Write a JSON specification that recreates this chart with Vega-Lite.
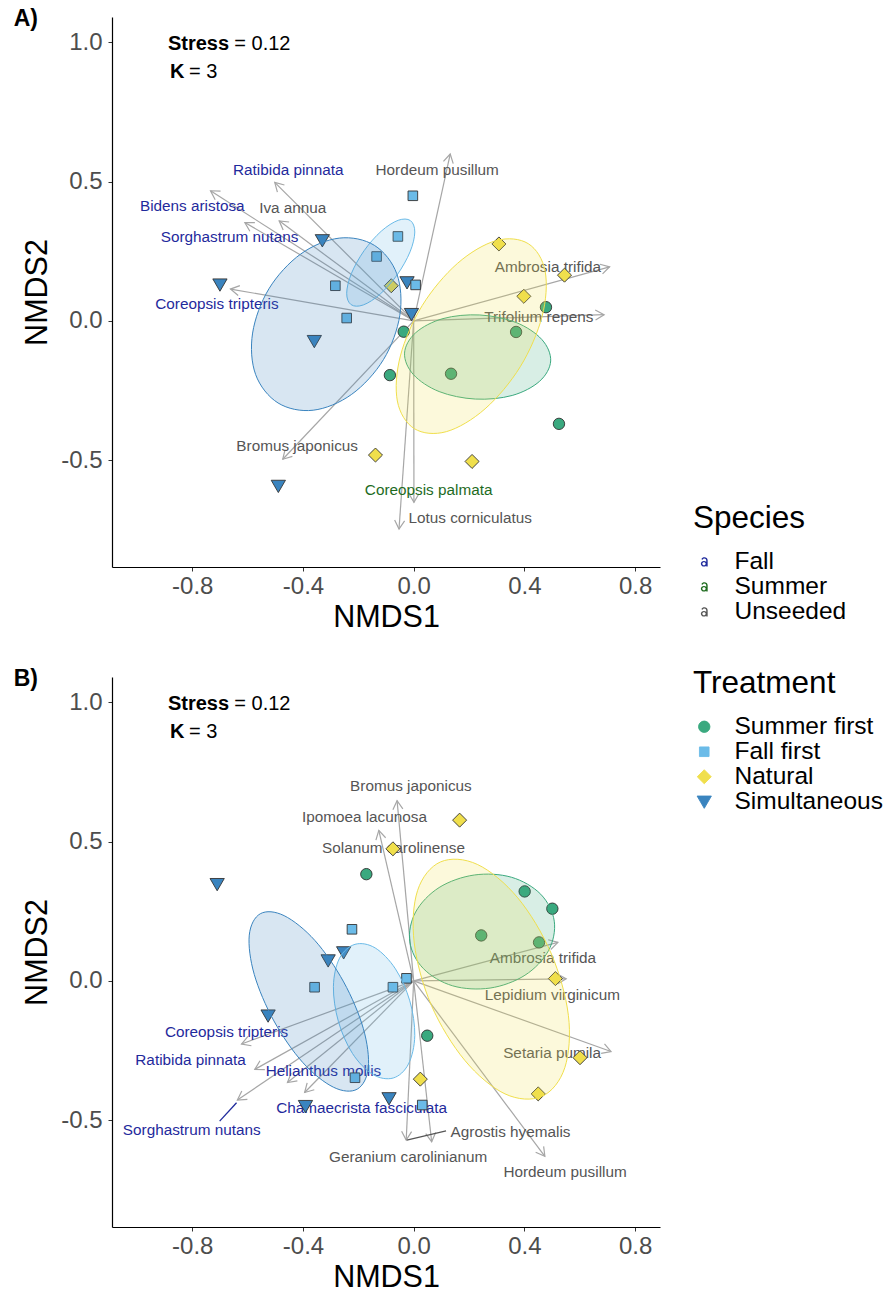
{
  "$schema": "https://vega.github.io/schema/vega-lite/v6.json",
  "padding": {"left": 13, "top": 8, "right": 4, "bottom": 0},
  "spacing": 35,
  "config": {
    "font": "Liberation Sans",
    "view": {"stroke": null},
    "axis": {"grid": false, "domainColor": "#000000", "domainWidth": 1.2, "tickColor": "#333333", "tickSize": 4, "tickWidth": 1, "labelFontSize": 24, "labelColor": "#4d4d4d", "titleFontSize": 30.5, "titleFontWeight": "normal", "titleColor": "#000000"},
    "axisX": {"labelPadding": 3, "titlePadding": 4},
    "axisY": {"labelPadding": 6, "titlePadding": 8},
    "legend": {"titleFontSize": 31.5, "titleFontWeight": "normal", "titleColor": "#000000", "labelFontSize": 24.5, "labelColor": "#000000", "rowPadding": 0, "titlePadding": 15, "labelOffset": 18, "symbolOffset": -1},
    "title": {"fontSize": 23, "fontWeight": "bold", "color": "#000000", "anchor": "start", "frame": "bounds"}
  },
  "datasets": {
    "ptsA": [
      {"Treatment": "Simultaneous", "x": -0.330, "y": 0.289},
      {"Treatment": "Simultaneous", "x": -0.700, "y": 0.130},
      {"Treatment": "Simultaneous", "x": -0.359, "y": -0.073},
      {"Treatment": "Simultaneous", "x": -0.024, "y": 0.138},
      {"Treatment": "Simultaneous", "x": -0.008, "y": 0.024},
      {"Treatment": "Simultaneous", "x": -0.489, "y": -0.593},
      {"Treatment": "Fall first", "x": -0.003, "y": 0.449},
      {"Treatment": "Fall first", "x": -0.057, "y": 0.303},
      {"Treatment": "Fall first", "x": -0.134, "y": 0.231},
      {"Treatment": "Fall first", "x": -0.283, "y": 0.126},
      {"Treatment": "Fall first", "x": -0.242, "y": 0.010},
      {"Treatment": "Fall first", "x": 0.007, "y": 0.129},
      {"Treatment": "Natural", "x": 0.308, "y": 0.276},
      {"Treatment": "Natural", "x": 0.545, "y": 0.164},
      {"Treatment": "Natural", "x": 0.398, "y": 0.088},
      {"Treatment": "Natural", "x": -0.081, "y": 0.126},
      {"Treatment": "Natural", "x": -0.138, "y": -0.482},
      {"Treatment": "Natural", "x": 0.211, "y": -0.505},
      {"Treatment": "Summer first", "x": -0.036, "y": -0.039},
      {"Treatment": "Summer first", "x": -0.086, "y": -0.195},
      {"Treatment": "Summer first", "x": 0.135, "y": -0.190},
      {"Treatment": "Summer first", "x": 0.370, "y": -0.040},
      {"Treatment": "Summer first", "x": 0.478, "y": 0.049},
      {"Treatment": "Summer first", "x": 0.525, "y": -0.370}
    ],
    "ptsB": [
      {"Treatment": "Simultaneous", "x": -0.710, "y": 0.347},
      {"Treatment": "Simultaneous", "x": -0.309, "y": 0.073},
      {"Treatment": "Simultaneous", "x": -0.253, "y": 0.102},
      {"Treatment": "Simultaneous", "x": -0.526, "y": -0.125},
      {"Treatment": "Simultaneous", "x": -0.391, "y": -0.450},
      {"Treatment": "Simultaneous", "x": -0.089, "y": -0.422},
      {"Treatment": "Fall first", "x": -0.223, "y": 0.185},
      {"Treatment": "Fall first", "x": -0.358, "y": -0.023},
      {"Treatment": "Fall first", "x": -0.075, "y": -0.023},
      {"Treatment": "Fall first", "x": -0.026, "y": 0.009},
      {"Treatment": "Fall first", "x": -0.212, "y": -0.348},
      {"Treatment": "Fall first", "x": 0.031, "y": -0.446},
      {"Treatment": "Summer first", "x": -0.171, "y": 0.383},
      {"Treatment": "Summer first", "x": 0.049, "y": -0.197},
      {"Treatment": "Summer first", "x": 0.401, "y": 0.321},
      {"Treatment": "Summer first", "x": 0.501, "y": 0.259},
      {"Treatment": "Summer first", "x": 0.244, "y": 0.163},
      {"Treatment": "Summer first", "x": 0.453, "y": 0.138},
      {"Treatment": "Natural", "x": 0.166, "y": 0.577},
      {"Treatment": "Natural", "x": -0.075, "y": 0.474},
      {"Treatment": "Natural", "x": 0.512, "y": 0.008},
      {"Treatment": "Natural", "x": 0.024, "y": -0.353},
      {"Treatment": "Natural", "x": 0.601, "y": -0.276},
      {"Treatment": "Natural", "x": 0.450, "y": -0.406}
    ],
    "ellA": [
      {"Treatment": "Summer first", "i": 0, "x": 0.495, "y": -0.144},
      {"Treatment": "Summer first", "i": 1, "x": 0.463, "y": -0.067},
      {"Treatment": "Summer first", "i": 2, "x": 0.370, "y": -0.006},
      {"Treatment": "Summer first", "i": 3, "x": 0.239, "y": 0.021},
      {"Treatment": "Summer first", "i": 4, "x": 0.106, "y": 0.008},
      {"Treatment": "Summer first", "i": 5, "x": 0.007, "y": -0.043},
      {"Treatment": "Summer first", "i": 6, "x": -0.033, "y": -0.116},
      {"Treatment": "Summer first", "i": 7, "x": -0.001, "y": -0.193},
      {"Treatment": "Summer first", "i": 8, "x": 0.092, "y": -0.254},
      {"Treatment": "Summer first", "i": 9, "x": 0.223, "y": -0.281},
      {"Treatment": "Summer first", "i": 10, "x": 0.356, "y": -0.268},
      {"Treatment": "Summer first", "i": 11, "x": 0.455, "y": -0.217},
      {"Treatment": "Fall first", "i": 0, "x": -0.012, "y": 0.360},
      {"Treatment": "Fall first", "i": 1, "x": -0.056, "y": 0.361},
      {"Treatment": "Fall first", "i": 2, "x": -0.117, "y": 0.322},
      {"Treatment": "Fall first", "i": 3, "x": -0.179, "y": 0.252},
      {"Treatment": "Fall first", "i": 4, "x": -0.225, "y": 0.170},
      {"Treatment": "Fall first", "i": 5, "x": -0.242, "y": 0.099},
      {"Treatment": "Fall first", "i": 6, "x": -0.226, "y": 0.058},
      {"Treatment": "Fall first", "i": 7, "x": -0.182, "y": 0.057},
      {"Treatment": "Fall first", "i": 8, "x": -0.121, "y": 0.096},
      {"Treatment": "Fall first", "i": 9, "x": -0.059, "y": 0.166},
      {"Treatment": "Fall first", "i": 10, "x": -0.013, "y": 0.248},
      {"Treatment": "Fall first", "i": 11, "x": 0.004, "y": 0.319},
      {"Treatment": "Natural", "i": 0, "x": 0.414, "y": 0.277},
      {"Treatment": "Natural", "i": 1, "x": 0.298, "y": 0.288},
      {"Treatment": "Natural", "i": 2, "x": 0.158, "y": 0.206},
      {"Treatment": "Natural", "i": 3, "x": 0.031, "y": 0.055},
      {"Treatment": "Natural", "i": 4, "x": -0.048, "y": -0.126},
      {"Treatment": "Natural", "i": 5, "x": -0.059, "y": -0.288},
      {"Treatment": "Natural", "i": 6, "x": 0.002, "y": -0.387},
      {"Treatment": "Natural", "i": 7, "x": 0.118, "y": -0.398},
      {"Treatment": "Natural", "i": 8, "x": 0.258, "y": -0.316},
      {"Treatment": "Natural", "i": 9, "x": 0.385, "y": -0.165},
      {"Treatment": "Natural", "i": 10, "x": 0.464, "y": 0.016},
      {"Treatment": "Natural", "i": 11, "x": 0.475, "y": 0.178},
      {"Treatment": "Simultaneous", "i": 0, "x": -0.142, "y": 0.271},
      {"Treatment": "Simultaneous", "i": 1, "x": -0.269, "y": 0.297},
      {"Treatment": "Simultaneous", "i": 2, "x": -0.408, "y": 0.240},
      {"Treatment": "Simultaneous", "i": 3, "x": -0.523, "y": 0.115},
      {"Treatment": "Simultaneous", "i": 4, "x": -0.582, "y": -0.044},
      {"Treatment": "Simultaneous", "i": 5, "x": -0.571, "y": -0.193},
      {"Treatment": "Simultaneous", "i": 6, "x": -0.490, "y": -0.295},
      {"Treatment": "Simultaneous", "i": 7, "x": -0.363, "y": -0.321},
      {"Treatment": "Simultaneous", "i": 8, "x": -0.224, "y": -0.264},
      {"Treatment": "Simultaneous", "i": 9, "x": -0.109, "y": -0.139},
      {"Treatment": "Simultaneous", "i": 10, "x": -0.050, "y": 0.020},
      {"Treatment": "Simultaneous", "i": 11, "x": -0.061, "y": 0.169}
    ],
    "ellB": [
      {"Treatment": "Summer first", "i": 0, "x": 0.508, "y": 0.214},
      {"Treatment": "Summer first", "i": 1, "x": 0.459, "y": 0.311},
      {"Treatment": "Summer first", "i": 2, "x": 0.353, "y": 0.372},
      {"Treatment": "Summer first", "i": 3, "x": 0.219, "y": 0.380},
      {"Treatment": "Summer first", "i": 4, "x": 0.092, "y": 0.335},
      {"Treatment": "Summer first", "i": 5, "x": 0.007, "y": 0.247},
      {"Treatment": "Summer first", "i": 6, "x": -0.014, "y": 0.140},
      {"Treatment": "Summer first", "i": 7, "x": 0.035, "y": 0.044},
      {"Treatment": "Summer first", "i": 8, "x": 0.141, "y": -0.018},
      {"Treatment": "Summer first", "i": 9, "x": 0.276, "y": -0.026},
      {"Treatment": "Summer first", "i": 10, "x": 0.402, "y": 0.020},
      {"Treatment": "Summer first", "i": 11, "x": 0.487, "y": 0.108},
      {"Treatment": "Fall first", "i": 0, "x": -0.074, "y": -0.349},
      {"Treatment": "Fall first", "i": 1, "x": -0.019, "y": -0.299},
      {"Treatment": "Fall first", "i": 2, "x": 0.004, "y": -0.197},
      {"Treatment": "Fall first", "i": 3, "x": -0.014, "y": -0.072},
      {"Treatment": "Fall first", "i": 4, "x": -0.066, "y": 0.043},
      {"Treatment": "Fall first", "i": 5, "x": -0.139, "y": 0.118},
      {"Treatment": "Fall first", "i": 6, "x": -0.212, "y": 0.131},
      {"Treatment": "Fall first", "i": 7, "x": -0.268, "y": 0.081},
      {"Treatment": "Fall first", "i": 8, "x": -0.290, "y": -0.021},
      {"Treatment": "Fall first", "i": 9, "x": -0.272, "y": -0.146},
      {"Treatment": "Fall first", "i": 10, "x": -0.221, "y": -0.261},
      {"Treatment": "Fall first", "i": 11, "x": -0.148, "y": -0.336},
      {"Treatment": "Natural", "i": 0, "x": 0.463, "y": -0.415},
      {"Treatment": "Natural", "i": 1, "x": 0.546, "y": -0.312},
      {"Treatment": "Natural", "i": 2, "x": 0.559, "y": -0.124},
      {"Treatment": "Natural", "i": 3, "x": 0.496, "y": 0.100},
      {"Treatment": "Natural", "i": 4, "x": 0.376, "y": 0.298},
      {"Treatment": "Natural", "i": 5, "x": 0.230, "y": 0.418},
      {"Treatment": "Natural", "i": 6, "x": 0.097, "y": 0.427},
      {"Treatment": "Natural", "i": 7, "x": 0.014, "y": 0.324},
      {"Treatment": "Natural", "i": 8, "x": 0.002, "y": 0.136},
      {"Treatment": "Natural", "i": 9, "x": 0.064, "y": -0.088},
      {"Treatment": "Natural", "i": 10, "x": 0.185, "y": -0.286},
      {"Treatment": "Natural", "i": 11, "x": 0.330, "y": -0.406},
      {"Treatment": "Simultaneous", "i": 0, "x": -0.204, "y": -0.389},
      {"Treatment": "Simultaneous", "i": 1, "x": -0.164, "y": -0.312},
      {"Treatment": "Simultaneous", "i": 2, "x": -0.182, "y": -0.171},
      {"Treatment": "Simultaneous", "i": 3, "x": -0.253, "y": -0.004},
      {"Treatment": "Simultaneous", "i": 4, "x": -0.357, "y": 0.145},
      {"Treatment": "Simultaneous", "i": 5, "x": -0.468, "y": 0.234},
      {"Treatment": "Simultaneous", "i": 6, "x": -0.554, "y": 0.241},
      {"Treatment": "Simultaneous", "i": 7, "x": -0.594, "y": 0.164},
      {"Treatment": "Simultaneous", "i": 8, "x": -0.576, "y": 0.023},
      {"Treatment": "Simultaneous", "i": 9, "x": -0.505, "y": -0.144},
      {"Treatment": "Simultaneous", "i": 10, "x": -0.401, "y": -0.293},
      {"Treatment": "Simultaneous", "i": 11, "x": -0.290, "y": -0.382}
    ],
    "arrA": [
      {"sp": "Ratibida pinnata", "x": -0.502, "y": 0.497},
      {"sp": "Bidens aristosa", "x": -0.734, "y": 0.467},
      {"sp": "Sorghastrum nutans", "x": -0.610, "y": 0.353},
      {"sp": "Coreopsis tripteris", "x": -0.662, "y": 0.114},
      {"sp": "Iva annua", "x": -0.486, "y": 0.359},
      {"sp": "Hordeum pusillum", "x": 0.132, "y": 0.599},
      {"sp": "Ambrosia trifida", "x": 0.708, "y": 0.194},
      {"sp": "Trifolium repens", "x": 0.688, "y": 0.022},
      {"sp": "Bromus japonicus", "x": -0.473, "y": -0.497},
      {"sp": "Coreopsis palmata", "x": 0.001, "y": -0.652},
      {"sp": "Lotus corniculatus", "x": -0.053, "y": -0.748}
    ],
    "arrB": [
      {"sp": "Bromus japonicus", "x": -0.060, "y": 0.647},
      {"sp": "Ipomoea lacunosa", "x": -0.126, "y": 0.540},
      {"sp": "Ambrosia trifida", "x": 0.521, "y": 0.138},
      {"sp": "Lepidium virginicum", "x": 0.551, "y": 0.007},
      {"sp": "Setaria pumila", "x": 0.713, "y": -0.254},
      {"sp": "Hordeum pusillum", "x": 0.474, "y": -0.630},
      {"sp": "Agrostis hyemalis", "x": 0.065, "y": -0.578},
      {"sp": "Geranium carolinianum", "x": -0.027, "y": -0.572},
      {"sp": "Coreopsis tripteris", "x": -0.622, "y": -0.227},
      {"sp": "Ratibida pinnata", "x": -0.574, "y": -0.318},
      {"sp": "Helianthus mollis", "x": -0.456, "y": -0.365},
      {"sp": "Chamaecrista fasciculata", "x": -0.394, "y": -0.401},
      {"sp": "Sorghastrum nutans", "x": -0.637, "y": -0.428}
    ],
    "labA": [
      {"label": "Ratibida pinnata", "Group": "Fall", "x": -0.453, "y": 0.541},
      {"label": "Bidens aristosa", "Group": "Fall", "x": -0.800, "y": 0.413},
      {"label": "Sorghastrum nutans", "Group": "Fall", "x": -0.665, "y": 0.300},
      {"label": "Coreopsis tripteris", "Group": "Fall", "x": -0.711, "y": 0.060},
      {"label": "Iva annua", "Group": "Unseeded", "x": -0.437, "y": 0.405},
      {"label": "Hordeum pusillum", "Group": "Unseeded", "x": 0.085, "y": 0.541},
      {"label": "Ambrosia trifida", "Group": "Unseeded", "x": 0.485, "y": 0.194},
      {"label": "Trifolium repens", "Group": "Unseeded", "x": 0.452, "y": 0.012},
      {"label": "Bromus japonicus", "Group": "Unseeded", "x": -0.421, "y": -0.449},
      {"label": "Coreopsis palmata", "Group": "Summer", "x": 0.054, "y": -0.607},
      {"label": "Lotus corniculatus", "Group": "Unseeded", "x": 0.204, "y": -0.708}
    ],
    "labB": [
      {"label": "Bromus japonicus", "Group": "Unseeded", "x": -0.010, "y": 0.699},
      {"label": "Ipomoea lacunosa", "Group": "Unseeded", "x": -0.178, "y": 0.587},
      {"label": "Solanum carolinense", "Group": "Unseeded", "x": -0.073, "y": 0.477},
      {"label": "Ambrosia trifida", "Group": "Unseeded", "x": 0.467, "y": 0.081},
      {"label": "Lepidium virginicum", "Group": "Unseeded", "x": 0.501, "y": -0.050},
      {"label": "Setaria pumila", "Group": "Unseeded", "x": 0.500, "y": -0.258},
      {"label": "Hordeum pusillum", "Group": "Unseeded", "x": 0.547, "y": -0.686},
      {"label": "Agrostis hyemalis", "Group": "Unseeded", "x": 0.350, "y": -0.542},
      {"label": "Geranium carolinianum", "Group": "Unseeded", "x": -0.020, "y": -0.632},
      {"label": "Coreopsis tripteris", "Group": "Fall", "x": -0.676, "y": -0.182},
      {"label": "Ratibida pinnata", "Group": "Fall", "x": -0.806, "y": -0.284},
      {"label": "Helianthus mollis", "Group": "Fall", "x": -0.326, "y": -0.323},
      {"label": "Chamaecrista fasciculata", "Group": "Fall", "x": -0.188, "y": -0.458},
      {"label": "Sorghastrum nutans", "Group": "Fall", "x": -0.802, "y": -0.536}
    ],
    "segB": [
      {"Group": "Fall", "x": -0.640, "y": -0.438, "x2": -0.701, "y2": -0.504},
      {"Group": "Unseeded", "x": -0.025, "y": -0.572, "x2": 0.117, "y2": -0.539}
    ],
    "annBold": [
      {"t": "Stress", "x": -0.888, "y": 0.994},
      {"t": "K", "x": -0.880, "y": 0.894}
    ],
    "annNorm": [
      {"t": "= 0.12", "x": -0.648, "y": 0.994},
      {"t": "= 3", "x": -0.812, "y": 0.894}
    ]
  },
  "vconcat": [
    {
      "width": 548,
      "height": 550,
      "title": {"text": "A)", "offset": -14, "dx": -9},
      "encoding": {
        "x": {"field": "x", "type": "quantitative", "scale": {"domain": [-1.09, 0.89], "nice": false, "zero": false}, "axis": {"title": "NMDS1", "values": [-0.8, -0.4, 0, 0.4, 0.8], "labelExpr": "replace(format(datum.value, '.1f'), '\u2212', '-')"}},
        "y": {"field": "y", "type": "quantitative", "scale": {"domain": [-0.884, 1.091], "nice": false, "zero": false}, "axis": {"title": "NMDS2", "values": [-0.5, 0, 0.5, 1.0], "labelExpr": "replace(format(datum.value, '.1f'), '\u2212', '-')"}}
      },
      "layer": [
        {"data": {"name": "arrA"}, "mark": {"type": "rule", "color": "#a6a6a6", "strokeWidth": 1.2}, "encoding": {"x2": {"datum": 0}, "y2": {"datum": 0}}},
        {"data": {"name": "arrA"}, "transform": [{"calculate": "atan2(datum.x, datum.y) * 180 / PI", "as": "ang"}], "mark": {"type": "point", "shape": "M-0.5,0.87L0,0L0.5,0.87", "filled": false, "stroke": "#a6a6a6", "strokeWidth": 1.2, "size": 400, "opacity": 1}, "encoding": {"angle": {"field": "ang", "type": "quantitative", "scale": null}}},
        {"data": {"name": "labA"}, "mark": {"type": "text", "fontSize": 15.3, "align": "center", "baseline": "middle"}, "encoding": {"text": {"field": "label"}, "color": {"field": "Group", "type": "nominal", "scale": {"domain": ["Fall", "Summer", "Unseeded"], "range": ["#1f2a9c", "#1e6b1e", "#555555"]}, "legend": {"title": "Species", "orient": "none", "legendX": 581, "legendY": 486, "symbolType": "M-0.6,0.35A0.55,0.5,0,1,1,0.5,0.35A0.55,0.5,0,1,1,-0.6,0.35Z M-0.35,0.35A0.3,0.27,0,1,0,0.25,0.35A0.3,0.27,0,1,0,-0.35,0.35Z M0.35,-0.2L0.6,-0.2L0.6,0.85L0.35,0.85Z M-0.5,-0.45C-0.3,-0.95,0.6,-0.9,0.6,-0.2L0.35,-0.2C0.35,-0.65,-0.15,-0.7,-0.27,-0.35Z", "symbolSize": 130, "symbolStrokeWidth": 0}}}},
        {"data": {"name": "ptsA"}, "mark": {"type": "point", "filled": true, "stroke": "#333333", "strokeWidth": 0.9, "opacity": 1, "size": 144}, "encoding": {
          "fill": {"field": "Treatment", "type": "nominal", "scale": {"domain": ["Summer first", "Fall first", "Natural", "Simultaneous"], "range": ["#3aa97f", "#6bbbe8", "#f0df4c", "#3a84bf"]}, "legend": {"title": "Treatment", "orient": "none", "legendX": 581, "legendY": 651, "symbolSize": 144, "symbolStrokeColor": "#333333", "symbolStrokeWidth": 0.9}},
          "shape": {"field": "Treatment", "type": "nominal", "scale": {"domain": ["Summer first", "Fall first", "Natural", "Simultaneous"], "range": ["M-0.95,0A0.95,0.95,0,1,1,0.95,0A0.95,0.95,0,1,1,-0.95,0Z", "M-0.8,-0.8L0.8,-0.8L0.8,0.8L-0.8,0.8Z", "M-1.17,0L0,-1.17L1.17,0L0,1.17Z", "M-1.19,-0.95L1.19,-0.95L0,1.1Z"]}, "legend": {"title": "Treatment", "orient": "none", "legendX": 581, "legendY": 651, "symbolSize": 144, "symbolStrokeColor": "#333333", "symbolStrokeWidth": 0.9}}
        }},
        {"data": {"name": "ellA"}, "mark": {"type": "line", "interpolate": "cardinal-closed", "fillOpacity": 0.2, "strokeWidth": 1}, "encoding": {
          "fill": {"field": "Treatment", "type": "nominal", "legend": null},
          "stroke": {"field": "Treatment", "type": "nominal", "scale": {"domain": ["Summer first", "Fall first", "Natural", "Simultaneous"], "range": ["#3aa97f", "#6bbbe8", "#f0df4c", "#3a84bf"]}, "legend": null},
          "order": {"field": "i", "type": "quantitative"}
        }},
        {"data": {"name": "annBold"}, "mark": {"type": "text", "fontSize": 20, "fontWeight": "bold", "align": "left", "baseline": "middle", "color": "#000000"}, "encoding": {"text": {"field": "t"}}},
        {"data": {"name": "annNorm"}, "mark": {"type": "text", "fontSize": 20, "align": "left", "baseline": "middle", "color": "#000000"}, "encoding": {"text": {"field": "t"}}}
      ]
    },
    {
      "width": 548,
      "height": 550,
      "title": {"text": "B)", "offset": -14, "dx": -9},
      "encoding": {
        "x": {"field": "x", "type": "quantitative", "scale": {"domain": [-1.09, 0.89], "nice": false, "zero": false}, "axis": {"title": "NMDS1", "values": [-0.8, -0.4, 0, 0.4, 0.8], "labelExpr": "replace(format(datum.value, '.1f'), '\u2212', '-')"}},
        "y": {"field": "y", "type": "quantitative", "scale": {"domain": [-0.884, 1.091], "nice": false, "zero": false}, "axis": {"title": "NMDS2", "values": [-0.5, 0, 0.5, 1.0], "labelExpr": "replace(format(datum.value, '.1f'), '\u2212', '-')"}}
      },
      "layer": [
        {"data": {"name": "arrB"}, "mark": {"type": "rule", "color": "#a6a6a6", "strokeWidth": 1.2}, "encoding": {"x2": {"datum": 0}, "y2": {"datum": 0}}},
        {"data": {"name": "arrB"}, "transform": [{"calculate": "atan2(datum.x, datum.y) * 180 / PI", "as": "ang"}], "mark": {"type": "point", "shape": "M-0.5,0.87L0,0L0.5,0.87", "filled": false, "stroke": "#a6a6a6", "strokeWidth": 1.2, "size": 400, "opacity": 1}, "encoding": {"angle": {"field": "ang", "type": "quantitative", "scale": null}}},
        {"data": {"name": "segB"}, "mark": {"type": "rule", "strokeWidth": 1.3}, "encoding": {"x2": {"field": "x2"}, "y2": {"field": "y2"}, "color": {"field": "Group", "type": "nominal", "legend": null}}},
        {"data": {"name": "labB"}, "mark": {"type": "text", "fontSize": 15.3, "align": "center", "baseline": "middle"}, "encoding": {"text": {"field": "label"}, "color": {"field": "Group", "type": "nominal", "scale": {"domain": ["Fall", "Summer", "Unseeded"], "range": ["#1f2a9c", "#1e6b1e", "#555555"]}, "legend": {"title": "Species", "orient": "none", "legendX": 581, "legendY": 486, "symbolType": "M-0.6,0.35A0.55,0.5,0,1,1,0.5,0.35A0.55,0.5,0,1,1,-0.6,0.35Z M-0.35,0.35A0.3,0.27,0,1,0,0.25,0.35A0.3,0.27,0,1,0,-0.35,0.35Z M0.35,-0.2L0.6,-0.2L0.6,0.85L0.35,0.85Z M-0.5,-0.45C-0.3,-0.95,0.6,-0.9,0.6,-0.2L0.35,-0.2C0.35,-0.65,-0.15,-0.7,-0.27,-0.35Z", "symbolSize": 130, "symbolStrokeWidth": 0}}}},
        {"data": {"name": "ptsB"}, "mark": {"type": "point", "filled": true, "stroke": "#333333", "strokeWidth": 0.9, "opacity": 1, "size": 144}, "encoding": {
          "fill": {"field": "Treatment", "type": "nominal", "scale": {"domain": ["Summer first", "Fall first", "Natural", "Simultaneous"], "range": ["#3aa97f", "#6bbbe8", "#f0df4c", "#3a84bf"]}, "legend": {"title": "Treatment", "orient": "none", "legendX": 581, "legendY": 651, "symbolSize": 144, "symbolStrokeColor": "#333333", "symbolStrokeWidth": 0.9}},
          "shape": {"field": "Treatment", "type": "nominal", "scale": {"domain": ["Summer first", "Fall first", "Natural", "Simultaneous"], "range": ["M-0.95,0A0.95,0.95,0,1,1,0.95,0A0.95,0.95,0,1,1,-0.95,0Z", "M-0.8,-0.8L0.8,-0.8L0.8,0.8L-0.8,0.8Z", "M-1.17,0L0,-1.17L1.17,0L0,1.17Z", "M-1.19,-0.95L1.19,-0.95L0,1.1Z"]}, "legend": {"title": "Treatment", "orient": "none", "legendX": 581, "legendY": 651, "symbolSize": 144, "symbolStrokeColor": "#333333", "symbolStrokeWidth": 0.9}}
        }},
        {"data": {"name": "ellB"}, "mark": {"type": "line", "interpolate": "cardinal-closed", "fillOpacity": 0.2, "strokeWidth": 1}, "encoding": {
          "fill": {"field": "Treatment", "type": "nominal", "legend": null},
          "stroke": {"field": "Treatment", "type": "nominal", "scale": {"domain": ["Summer first", "Fall first", "Natural", "Simultaneous"], "range": ["#3aa97f", "#6bbbe8", "#f0df4c", "#3a84bf"]}, "legend": null},
          "order": {"field": "i", "type": "quantitative"}
        }},
        {"data": {"name": "annBold"}, "mark": {"type": "text", "fontSize": 20, "fontWeight": "bold", "align": "left", "baseline": "middle", "color": "#000000"}, "encoding": {"text": {"field": "t"}}},
        {"data": {"name": "annNorm"}, "mark": {"type": "text", "fontSize": 20, "align": "left", "baseline": "middle", "color": "#000000"}, "encoding": {"text": {"field": "t"}}}
      ]
    }
  ]
}
